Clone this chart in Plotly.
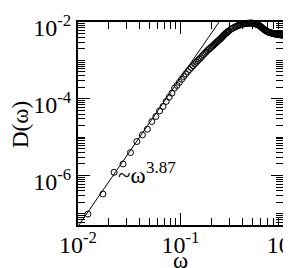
import plotly.graph_objects as go

# ---- data ----
omega = [
    0.0125, 0.0175, 0.0225, 0.0275, 0.0325, 0.0375, 0.0425, 0.0475, 0.0525, 0.0575,
    0.0625, 0.0675, 0.0725, 0.0775, 0.0825, 0.0875, 0.0925, 0.0975, 0.1025, 0.1075,
    0.1125, 0.1175, 0.1225, 0.1275, 0.1325, 0.1375, 0.1425, 0.1475, 0.1525, 0.1575,
    0.1625, 0.1675, 0.1725, 0.1775, 0.1825, 0.1875, 0.1925, 0.1975, 0.2025, 0.2075,
    0.2125, 0.2175, 0.2225, 0.2275, 0.2325, 0.2375, 0.2425, 0.2475, 0.2525, 0.2575,
    0.2625, 0.2675, 0.2725, 0.2775, 0.2825, 0.2875, 0.2925, 0.2975,
    0.31, 0.32, 0.33, 0.34, 0.35, 0.36, 0.37, 0.38, 0.39, 0.40,
    0.41, 0.42, 0.43, 0.44, 0.45, 0.46, 0.47, 0.48, 0.49, 0.50,
    0.51, 0.52, 0.53, 0.54, 0.55, 0.56, 0.57, 0.58, 0.59, 0.60,
    0.61, 0.62, 0.63, 0.64, 0.65, 0.66, 0.67, 0.68, 0.69, 0.70,
    0.71, 0.72, 0.73, 0.74, 0.75, 0.76, 0.77, 0.78, 0.79, 0.80,
    0.81, 0.82, 0.83, 0.84, 0.85, 0.86, 0.87, 0.88, 0.89, 0.90,
    0.91, 0.92, 0.93, 0.94, 0.95, 0.96, 0.97, 0.98, 0.99, 1.00,
]
D = [
    9.89e-8, 3.29e-7, 1.21e-6, 2.00e-6, 3.96e-6, 7.67e-6, 1.14e-5, 1.61e-5, 2.55e-5, 3.45e-5,
    4.83e-5, 6.30e-5, 8.51e-5, 1.10e-4, 1.40e-4, 1.89e-4, 2.22e-4, 2.68e-4, 3.21e-4, 3.80e-4,
    4.42e-4, 5.13e-4, 5.78e-4, 6.53e-4, 7.28e-4, 8.11e-4, 8.97e-4, 9.82e-4, 1.08e-3, 1.17e-3,
    1.29e-3, 1.41e-3, 1.53e-3, 1.65e-3, 1.79e-3, 1.91e-3, 2.03e-3, 2.16e-3, 2.28e-3, 2.40e-3,
    2.57e-3, 2.73e-3, 2.88e-3, 3.06e-3, 3.21e-3, 3.37e-3, 3.56e-3, 3.73e-3, 3.94e-3, 4.16e-3,
    4.42e-3, 4.66e-3, 4.89e-3, 5.11e-3, 5.28e-3, 5.52e-3, 5.71e-3, 5.93e-3,
    6.49e-3, 6.81e-3, 7.10e-3, 7.38e-3, 7.67e-3, 7.98e-3, 8.20e-3, 8.36e-3, 8.55e-3, 8.71e-3,
    8.87e-3, 9.04e-3, 9.14e-3, 9.18e-3, 9.23e-3, 9.25e-3, 9.31e-3, 9.40e-3, 9.42e-3, 9.31e-3,
    9.18e-3, 9.08e-3, 9.00e-3, 8.91e-3, 8.77e-3, 8.55e-3, 8.36e-3, 8.15e-3, 8.00e-3, 7.76e-3,
    7.45e-3, 7.18e-3, 6.93e-3, 6.68e-3, 6.44e-3, 6.25e-3, 6.07e-3, 5.96e-3, 5.82e-3, 5.69e-3,
    5.55e-3, 5.45e-3, 5.38e-3, 5.32e-3, 5.26e-3, 5.21e-3, 5.16e-3, 5.11e-3, 5.06e-3, 5.01e-3,
    4.98e-3, 4.93e-3, 4.91e-3, 4.88e-3, 4.84e-3, 4.82e-3, 4.79e-3, 4.76e-3, 4.73e-3, 4.72e-3,
    4.69e-3, 4.68e-3, 4.66e-3, 4.65e-3, 4.63e-3, 4.62e-3, 4.60e-3, 4.59e-3, 4.58e-3, 4.58e-3,
]
# power-law guide ~ omega^3.87 (end points)
omega_fit = [0.01, 0.30]
D_fit = [4.73e-8, 2.46e-2]

x_major = [0.01, 0.1, 1.0]
x_major_text = ["10<sup>-2</sup>", "10<sup>-1</sup>", "10<sup>0</sup>"]
y_major = [1e-6, 1e-4, 1e-2]
y_major_text = ["10<sup>-6</sup>", "10<sup>-4</sup>", "10<sup>-2</sup>"]

def labels_for(vals, majors, texts):
    out = []
    for v in vals:
        lab = ""
        for mv, mt in zip(majors, texts):
            if abs(v / mv - 1) < 1e-6:
                lab = mt
        out.append(lab)
    return out

# all tick positions (short ticks), labels only at the major ones
x_all = [m * 10.0 ** k for k in (-2, -1) for m in range(1, 10)] + [1.0]
y_all = [m * 10.0 ** k for k in range(-8, -2) for m in range(1, 10)] + [1e-2]
x_all_text = labels_for(x_all, x_major, x_major_text)
y_all_text = labels_for(y_all, y_major, y_major_text)

FONT = "Liberation Serif, Times New Roman, serif"
XR = [-2.0001, 0.0001]
YR = [-7.29, -1.9999]

fig = go.Figure()
fig.add_trace(go.Scatter(
    x=omega_fit, y=D_fit, mode="lines",
    line=dict(color="black", width=1), showlegend=False, hoverinfo="skip",
))
fig.add_trace(go.Scatter(
    x=omega, y=D, mode="markers",
    marker=dict(symbol="circle-open", size=6, color="black", line=dict(width=1, color="black")),
    showlegend=False, cliponaxis=False,
))

base = dict(type="log", showgrid=False, zeroline=False, automargin=False,
            ticks="inside", tickcolor="black", tickwidth=1, tickmode="array")

fig.update_layout(
    width=291, height=268,
    margin=dict(l=70, r=16, t=14, b=51),
    paper_bgcolor="white", plot_bgcolor="white",
    font=dict(family=FONT, color="black"),
    xaxis=dict(
        **base, range=XR, tickvals=x_all, ticktext=x_all_text, ticklen=7,
        showline=True, linecolor="black", linewidth=2, mirror="allticks",
        tickfont=dict(family=FONT, size=24, color="black"),
        ticklabeloverflow="allow", ticklabelstandoff=-3,
    ),
    yaxis=dict(
        **base, range=YR, tickvals=y_all, ticktext=y_all_text, ticklen=7,
        showline=True, linecolor="black", linewidth=2, mirror="allticks",
        tickfont=dict(family=FONT, size=24, color="black"),
        ticklabelshift=6, ticklabeloverflow="allow",
    ),
    # overlay axes that carry only the long major ticks (both sides)
    xaxis2=dict(**base, range=XR, overlaying="x", anchor="y", side="bottom",
                tickvals=x_major, ticktext=["", "", ""], ticklen=12,
                showline=False, mirror="allticks"),
    yaxis2=dict(**base, range=YR, overlaying="y", anchor="x", side="left",
                tickvals=y_major, ticktext=["", "", ""], ticklen=12,
                showline=False, mirror="allticks"),
    annotations=[
        dict(text="ω", xref="paper", yref="paper", x=0.502, y=-0.175,
             xanchor="center", yanchor="middle", showarrow=False,
             font=dict(family=FONT, size=23, color="black")),
        dict(text="D(ω)", xref="paper", yref="paper", x=-0.283, y=0.4975,
             xanchor="center", yanchor="middle", showarrow=False, textangle=-90,
             font=dict(family=FONT, size=23, color="black")),
        dict(text="~ω", xref="paper", yref="paper", x=0.185, y=0.242,
             xanchor="left", yanchor="middle", showarrow=False,
             font=dict(family=FONT, size=23, color="black")),
        dict(text="3.87", xref="paper", yref="paper", x=0.322, y=0.285,
             xanchor="left", yanchor="middle", showarrow=False,
             font=dict(family=FONT, size=17, color="black")),
    ],
)
# invisible trace to activate overlay axes
fig.add_trace(go.Scatter(x=[0.01], y=[1e-2], xaxis="x2", yaxis="y2", mode="markers",
                         marker=dict(opacity=0), showlegend=False, hoverinfo="skip"))

fig.write_html("out.html")
